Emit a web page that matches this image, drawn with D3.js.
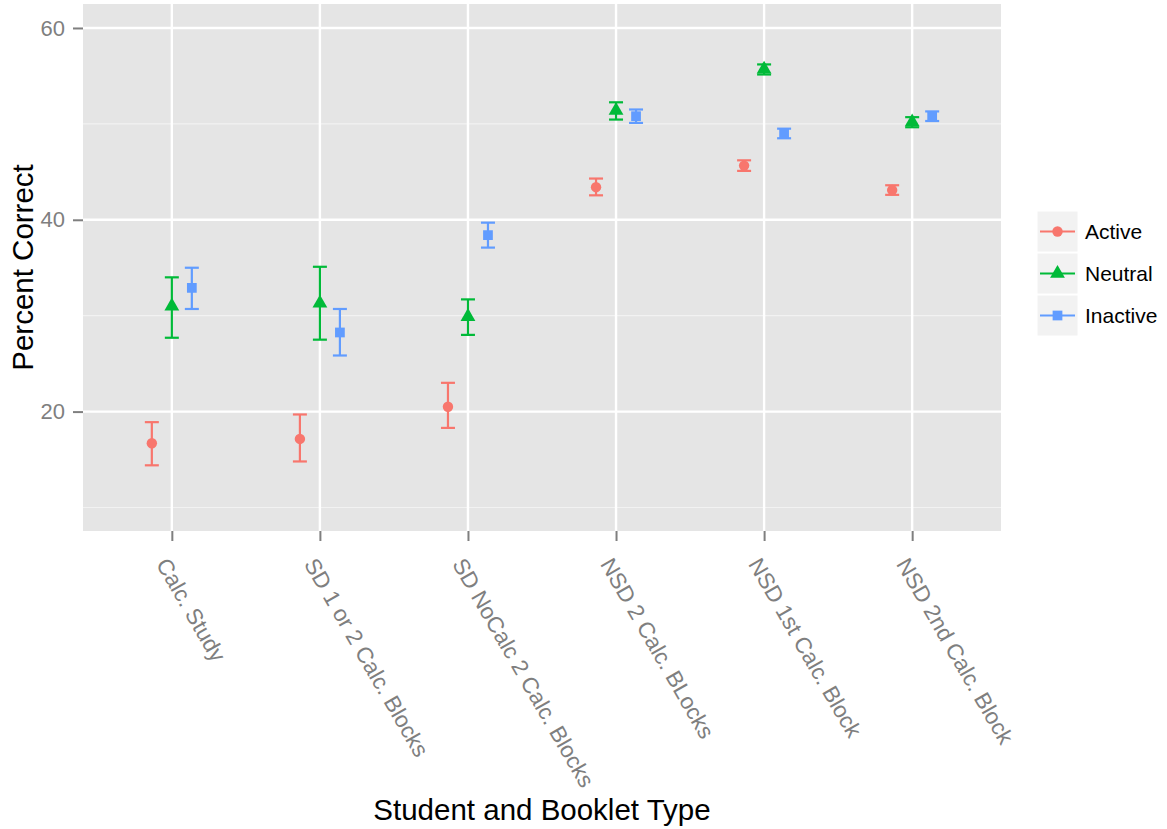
<!DOCTYPE html>
<html>
<head>
<meta charset="utf-8">
<script src="https://cdn.jsdelivr.net/npm/d3@7"></script>
<style>
  html, body { margin: 0; padding: 0; background: #ffffff; }
  svg { display: block; font-family: "Liberation Sans", Arial, sans-serif; }
</style>
</head>
<body>
<svg id="chart" width="1167" height="829"></svg>
<script>
// Booklet / student categories along the x axis
const categories = [
  "Calc. Study",
  "SD 1 or 2 Calc. Blocks",
  "SD NoCalc 2 Calc. Blocks",
  "NSD 2 Calc. BLocks",
  "NSD 1st Calc. Block",
  "NSD 2nd Calc. Block"
];

const groups = ["Active", "Neutral", "Inactive"];
const groupColors = ["#F8766D", "#00BA38", "#619CFF"];

// Mean percent correct per group, one value per category
const activeMean   = [16.7, 17.15, 20.5, 43.4, 45.65, 43.1];
const neutralMean  = [31.0, 31.3, 29.9, 51.4, 55.7, 50.2];
const inactiveMean = [32.9, 28.25, 38.4, 50.8, 49.0, 50.8];

// Lower / upper interval bounds
const activeLow    = [14.4, 14.8, 18.3, 42.55, 45.1, 42.6];
const activeHigh   = [18.9, 19.7, 23.0, 44.3, 46.2, 43.6];
const neutralLow   = [27.7, 27.5, 28.0, 50.45, 55.15, 49.65];
const neutralHigh  = [34.0, 35.1, 31.7, 52.25, 56.2, 50.7];
const inactiveLow  = [30.7, 25.85, 37.1, 50.1, 48.5, 50.3];
const inactiveHigh = [35.0, 30.7, 39.7, 51.5, 49.5, 51.3];

const yMajorTicks = [20, 40, 60];
const yMinorTicks = [10, 30, 50];

const seriesMeans = [activeMean, neutralMean, inactiveMean];
const seriesLows  = [activeLow, neutralLow, inactiveLow];
const seriesHighs = [activeHigh, neutralHigh, inactiveHigh];

const svg = d3.select("#chart");

const panel = { left: 83, right: 1001, top: 4, bottom: 531 };

// Discrete x with ggplot-style 0.6 expansion on both sides
const x = d3.scalePoint()
  .domain(categories)
  .range([panel.left, panel.right])
  .padding(0.6);

const y = d3.scaleLinear()
  .domain([7.55, 62.5])
  .range([panel.bottom, panel.top]);

// Dodge offset of each group around the category centre
const dodge = d3.scalePoint()
  .domain(groups)
  .range([-20, 20]);

const color = d3.scaleOrdinal().domain(groups).range(groupColors);

// Panel background
svg.append("rect")
  .attr("x", panel.left).attr("y", panel.top)
  .attr("width", panel.right - panel.left)
  .attr("height", panel.bottom - panel.top)
  .attr("fill", "#E5E5E5");

// Grid lines
const grid = svg.append("g");
grid.selectAll("line.minor").data(yMinorTicks).join("line")
  .attr("class", "minor")
  .attr("x1", panel.left).attr("x2", panel.right)
  .attr("y1", d => y(d)).attr("y2", d => y(d))
  .attr("stroke", "#F2F2F2").attr("stroke-width", 1.2);
grid.selectAll("line.major").data(yMajorTicks).join("line")
  .attr("class", "major")
  .attr("x1", panel.left).attr("x2", panel.right)
  .attr("y1", d => y(d)).attr("y2", d => y(d))
  .attr("stroke", "#FFFFFF").attr("stroke-width", 2.4);
grid.selectAll("line.vmajor").data(categories).join("line")
  .attr("class", "vmajor")
  .attr("x1", d => x(d)).attr("x2", d => x(d))
  .attr("y1", panel.top).attr("y2", panel.bottom)
  .attr("stroke", "#FFFFFF").attr("stroke-width", 2.4);

// Y axis
const yAxis = svg.append("g")
  .attr("transform", `translate(${panel.left},0)`)
  .call(d3.axisLeft(y).tickValues(yMajorTicks).tickSize(10).tickPadding(8));
yAxis.select(".domain").remove();
yAxis.selectAll(".tick line").attr("stroke", "#7F7F7F").attr("stroke-width", 2);
yAxis.selectAll(".tick text")
  .attr("fill", "#7F7F7F")
  .style("font-size", "22px")
  .style("font-family", "'Liberation Sans', Arial, sans-serif");

// X axis
const xAxis = svg.append("g")
  .attr("transform", `translate(0,${panel.bottom})`)
  .call(d3.axisBottom(x).tickSize(10).tickPadding(0));
xAxis.select(".domain").remove();
xAxis.selectAll(".tick line").attr("stroke", "#7F7F7F").attr("stroke-width", 2);
xAxis.selectAll(".tick text")
  .attr("fill", "#7F7F7F")
  .style("font-size", "22.5px")
  .style("font-family", "'Liberation Sans', Arial, sans-serif")
  .attr("text-anchor", "start")
  .attr("x", 0).attr("y", 0).attr("dy", "0.35em")
  .attr("transform", "translate(-10,29) rotate(60)");

// Error bars and points
const capHalf = 7;
const rows = [];
groups.forEach((g, gi) => {
  categories.forEach((c, ci) => {
    rows.push({
      group: g, cat: c,
      mean: seriesMeans[gi][ci],
      low: seriesLows[gi][ci],
      high: seriesHighs[gi][ci]
    });
  });
});

const marks = svg.append("g");
const bars = marks.selectAll("g.bar").data(rows).join("g")
  .attr("class", "bar")
  .attr("stroke", d => color(d.group))
  .attr("stroke-width", 2.2)
  .attr("fill", "none");
bars.append("line")
  .attr("x1", d => x(d.cat) + dodge(d.group)).attr("x2", d => x(d.cat) + dodge(d.group))
  .attr("y1", d => y(d.low)).attr("y2", d => y(d.high));
bars.append("line")
  .attr("x1", d => x(d.cat) + dodge(d.group) - capHalf).attr("x2", d => x(d.cat) + dodge(d.group) + capHalf)
  .attr("y1", d => y(d.low)).attr("y2", d => y(d.low));
bars.append("line")
  .attr("x1", d => x(d.cat) + dodge(d.group) - capHalf).attr("x2", d => x(d.cat) + dodge(d.group) + capHalf)
  .attr("y1", d => y(d.high)).attr("y2", d => y(d.high));

const shapes = {
  Active: d3.symbol().type(d3.symbolCircle).size(85),
  Neutral: d3.symbol().type(d3.symbolTriangle).size(95),
  Inactive: d3.symbol().type(d3.symbolSquare).size(95)
};

marks.selectAll("path.pt").data(rows).join("path")
  .attr("class", "pt")
  .attr("d", d => shapes[d.group]())
  .attr("transform", d => `translate(${x(d.cat) + dodge(d.group)},${y(d.mean)})`)
  .attr("fill", d => color(d.group));

// Axis titles
svg.append("text")
  .attr("x", (panel.left + panel.right) / 2)
  .attr("y", 820)
  .attr("text-anchor", "middle")
  .attr("fill", "#000000")
  .style("font-size", "29.5px")
  .text("Student and Booklet Type");

svg.append("text")
  .attr("transform", `translate(33,${(panel.top + panel.bottom) / 2}) rotate(-90)`)
  .attr("text-anchor", "middle")
  .attr("fill", "#000000")
  .style("font-size", "29.5px")
  .text("Percent Correct");

// Legend
const legend = svg.append("g").attr("transform", "translate(1037,211)");
const keySize = 41;
const item = legend.selectAll("g.item").data(groups).join("g")
  .attr("class", "item")
  .attr("transform", (d, i) => `translate(0,${i * (keySize + 1)})`);
item.append("rect")
  .attr("width", keySize).attr("height", keySize)
  .attr("fill", "#F2F2F2")
  .attr("stroke", "#FFFFFF").attr("stroke-width", 1);
item.append("line")
  .attr("x1", 3).attr("x2", keySize - 3)
  .attr("y1", keySize / 2).attr("y2", keySize / 2)
  .attr("stroke", d => color(d)).attr("stroke-width", 2.2);
item.append("path")
  .attr("d", d => shapes[d]())
  .attr("transform", `translate(${keySize / 2},${keySize / 2})`)
  .attr("fill", d => color(d));
item.append("text")
  .attr("x", keySize + 7)
  .attr("y", keySize / 2)
  .attr("dy", "0.35em")
  .attr("fill", "#000000")
  .style("font-size", "21px")
  .text(d => d);
</script>
</body>
</html>
